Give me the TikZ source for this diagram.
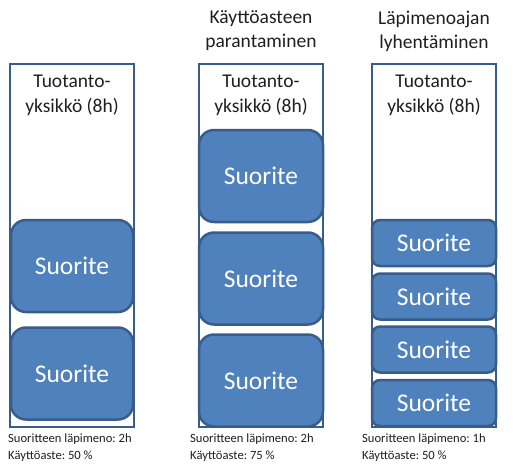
\documentclass[tikz,border=0pt]{standalone}
\usepackage{fontspec}
\setmainfont{Carlito}
\usetikzlibrary{positioning}
\definecolor{taskfill}{HTML}{4F81BD}
\definecolor{taskedge}{HTML}{385D8A}
\definecolor{txt}{HTML}{1F1F1F}
\frenchspacing

\begin{document}
\begin{tikzpicture}[x=1pt, y=-1pt,
    unit/.style={draw=taskedge, line width=2.5pt, fill=white, minimum width=124pt, minimum height=363pt, inner sep=0pt},
    unittext/.style={align=center, inner sep=0pt, text=txt, font=\fontsize{19.5}{25}\selectfont},
    title/.style={align=center, inner sep=0pt, anchor=north, text=txt, font=\fontsize{19.5}{24}\selectfont},
    info/.style={align=left, inner sep=0pt, anchor=north west, text=txt, font=\fontsize{12.6}{16.5}\selectfont},
    task/.style={draw=taskedge, line width=2.5pt, fill=taskfill, rounded corners=15pt, minimum width=124pt, minimum height=92pt, inner sep=0pt, text=white, font=\fontsize{25.5}{30}\selectfont},
    smalltask/.style={task, rounded corners=8pt, minimum height=46pt}]
    \useasboundingbox (0,0) rectangle (513,469);

    % otsikot
    \node[title] (title2) at (261, 10.5) {Käyttöasteen\\parantaminen};
    \node[title] (title3) at (434, 10.5) {Läpimenoajan\\lyhentäminen};

    % tuotantoyksiköt
    \node[unit] (u1) at (72, 245.5) {};
    \node[unit] (u2) at (261, 245.5) {};
    \node[unit] (u3) at (434, 245.5) {};
    \node[unittext, anchor=north, below=12.5pt of u1.north] (ut1) {Tuotanto-\\yksikkö (8h)};
    \node[unittext, anchor=north, below=12.5pt of u2.north] (ut2) {Tuotanto-\\yksikkö (8h)};
    \node[unittext, anchor=north, below=12.5pt of u3.north] (ut3) {Tuotanto-\\yksikkö (8h)};

    % suoritteet
    \node[task, minimum width=122pt] (s11) at (72, 266) {Suorite};
    \node[task, minimum width=122pt] (s12) at (72, 373.5) {Suorite};

    \node[task] (s21) at (261, 176) {Suorite};
    \node[task] (s22) at (261, 278.5) {Suorite};
    \node[task] (s23) at (261, 380.5) {Suorite};

    \node[smalltask] (s31) at (434, 243) {Suorite};
    \node[smalltask] (s32) at (434, 296.5) {Suorite};
    \node[smalltask] (s33) at (434, 349.5) {Suorite};
    \node[smalltask] (s34) at (434, 403) {Suorite};

    % tunnusluvut
    \node[info] (info1) at (8, 434) {Suoritteen läpimeno: 2h\\Käyttöaste: 50 \%};
    \node[info] (info2) at (190, 434) {Suoritteen läpimeno: 2h\\Käyttöaste: 75 \%};
    \node[info] (info3) at (362, 434) {Suoritteen läpimeno: 1h\\Käyttöaste: 50 \%};
\end{tikzpicture}
\end{document}
